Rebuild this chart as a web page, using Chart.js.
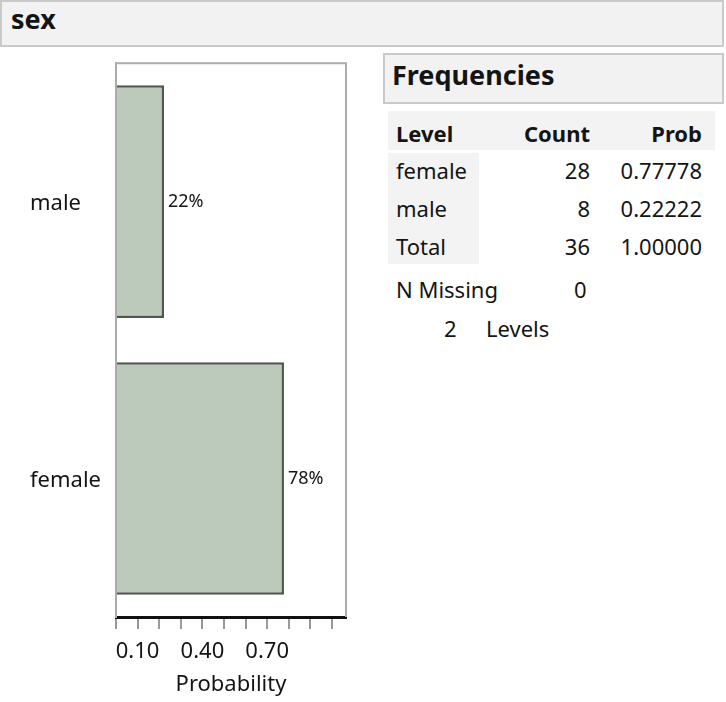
<!DOCTYPE html>
<html>
<head>
<meta charset="utf-8">
<script src="https://cdn.jsdelivr.net/npm/chart.js@4"></script>
<style>
    body { margin: 0; background: #fff; font-family: 'Noto Sans', 'Open Sans', sans-serif; color: #141414; }
    .box { position: absolute; background: #f2f2f2; border: 2px solid #c9c9c9; box-sizing: border-box; font-weight: bold; }
    #head { left: 0; top: 0; width: 724px; height: 47px; font-size: 27px; line-height: 30px; padding: 2px 0 0 9px; }
    #freqHead { left: 383px; top: 53px; width: 341px; height: 51px; font-size: 27px; line-height: 30px; padding: 5px 0 0 7px; }
    #chartWrap { position: absolute; left: 0; top: 47px; width: 360px; height: 655px; }
    table { position: absolute; left: 388px; top: 111px; border-collapse: collapse; font-size: 22px; }
    td { padding: 3px 0 0 0; line-height: 35px; vertical-align: top; }
    th { background: #f3f3f3; padding: 6px 0 0 0; line-height: 33px; vertical-align: top; }
    .lv { width: 83px; padding-left: 8px; text-align: left; }
    .ct { width: 111px; text-align: right; }
    .pr { width: 112px; text-align: right; }
    .pad { width: 13px; }
    td.lv { background: #f3f3f3; }
    tr.first td.lv { box-shadow: inset 0 3px 0 #fff; }
    .txt { position: absolute; font-size: 22px; line-height: 30px; }
</style>
</head>
<body>
<div class="box" id="head">sex</div>
<div id="chartWrap"><canvas id="distChart"></canvas></div>
<div class="box" id="freqHead">Frequencies</div>
<table id="freqTable"></table>
<div class="txt" style="left:396px; top:274px;">N Missing</div>
<div class="txt" id="nMissVal" style="left:574px; top:274px;"></div>
<div class="txt" id="nLevelsVal" style="left:444px; top:313px;"></div>
<div class="txt" style="left:486px; top:313px;">Levels</div>

<script>
const levels = ['male', 'female'];
const counts = [8, 28];
const tableOrder = ['female', 'male'];
const tickLabels = [0.1, 0.4, 0.7];
const nMissing = 0;

document.addEventListener('DOMContentLoaded', function() {
    const total = counts.reduce((a, b) => a + b, 0);
    const probs = counts.map(c => c / total);

    // frequency table
    const tbl = document.getElementById('freqTable');
    let html = '<tr><th class="lv">Level</th><th class="ct">Count</th><th class="pr">Prob</th><th class="pad"></th></tr>';
    tableOrder.forEach(function(name, r) {
        const i = levels.indexOf(name);
        html += '<tr' + (r === 0 ? ' class="first"' : '') + '><td class="lv">' + name + '</td><td class="ct">' + counts[i] +
            '</td><td class="pr">' + probs[i].toFixed(5) + '</td><td></td></tr>';
    });
    html += '<tr><td class="lv">Total</td><td class="ct">' + total + '</td><td class="pr">' + (1).toFixed(5) + '</td><td></td></tr>';
    tbl.innerHTML = html;
    document.getElementById('nMissVal').textContent = nMissing;
    document.getElementById('nLevelsVal').textContent = levels.length;

    // frame (top + right) and percent labels
    const framePlugin = {
        id: 'frame',
        afterDatasetsDraw(chart) {
            const { ctx, chartArea: a } = chart;
            ctx.save();
            ctx.strokeStyle = '#ababab';
            ctx.lineWidth = 2;
            ctx.beginPath();
            ctx.moveTo(a.left, a.top);
            ctx.lineTo(a.right, a.top);
            ctx.lineTo(a.right, a.bottom);
            ctx.stroke();

            ctx.fillStyle = '#141414';
            ctx.font = '18px "Noto Sans"';
            ctx.textBaseline = 'middle';
            ctx.textAlign = 'left';
            const meta = chart.getDatasetMeta(0);
            meta.data.forEach(function(bar, i) {
                const v = chart.data.datasets[0].data[i];
                ctx.fillText(Math.round(v * 100) + '%', bar.x + 4, bar.y);
            });
            ctx.restore();
        }
    };

    new Chart(document.getElementById('distChart'), {
        type: 'bar',
        data: {
            labels: levels,
            datasets: [{
                data: probs,
                backgroundColor: '#bccabc',
                borderColor: '#4f574f',
                borderWidth: 2.5,
                categoryPercentage: 1,
                barPercentage: 0.84
            }]
        },
        options: {
            indexAxis: 'y',
            responsive: true,
            maintainAspectRatio: false,
            animation: false,
            layout: { padding: { top: 7, right: 14, left: 30, bottom: 0 } },
            plugins: {
                legend: { display: false },
                tooltip: { enabled: false }
            },
            scales: {
                x: {
                    min: 0,
                    max: 1.065,
                    afterFit: function(scale) { scale.height = 85; },
                    afterBuildTicks: function(scale) {
                        const t = [];
                        for (let k = 0; k <= 10; k++) t.push({ value: k / 10 });
                        scale.ticks = t;
                    },
                    ticks: {
                        autoSkip: false,
                        maxRotation: 0,
                        padding: 10,
                        color: '#141414',
                        font: { family: 'Noto Sans', size: 22 },
                        callback: function(v) {
                            return tickLabels.some(t => Math.abs(t - v) < 1e-6) ? v.toFixed(2) : '';
                        }
                    },
                    grid: { drawOnChartArea: false, drawTicks: true, tickLength: 12, color: '#9a9a9a', lineWidth: 2 },
                    border: { display: true, color: '#111', width: 3 },
                    title: {
                        display: true,
                        text: 'Probability',
                        color: '#141414',
                        font: { family: 'Noto Sans', size: 22 },
                        padding: { top: 2, bottom: 4 }
                    }
                },
                y: {
                    afterFit: function(scale) { scale.width = 86; },
                    ticks: {
                        crossAlign: 'far',
                        labelOffset: 2,
                        color: '#141414',
                        font: { family: 'Noto Sans', size: 22 }
                    },
                    grid: { display: false },
                    border: { display: true, color: '#ababab', width: 2 }
                }
            }
        },
        plugins: [framePlugin]
    });
});
</script>
</body>
</html>
